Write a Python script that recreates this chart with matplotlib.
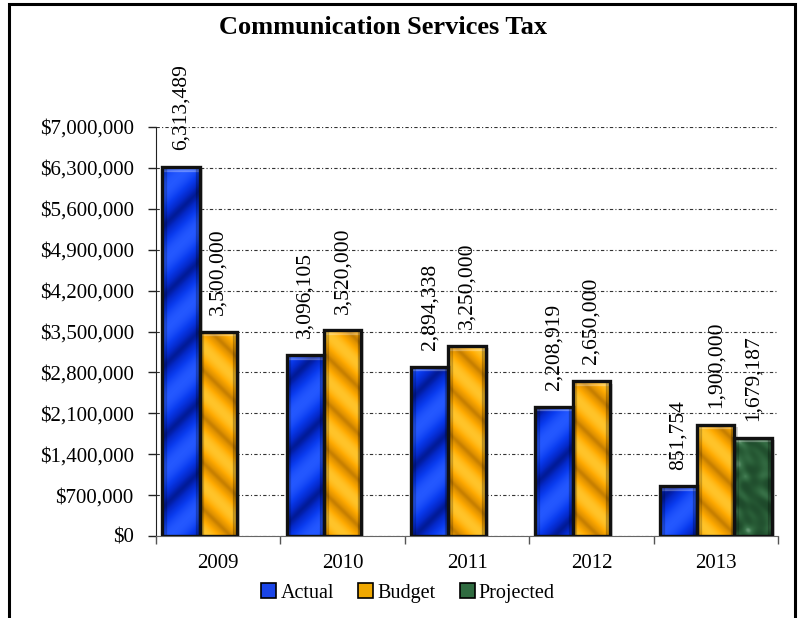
import numpy as np
import matplotlib
matplotlib.use("Agg")
import matplotlib.pyplot as plt
from matplotlib.colors import LinearSegmentedColormap
from matplotlib.patches import Rectangle, Patch
from matplotlib.ticker import FuncFormatter, MultipleLocator, FixedLocator

years = ['2009', '2010', '2011', '2012', '2013']
actual = [6313489, 3096105, 2894338, 2208919, 851754]
budget = [3500000, 3520000, 3250000, 2650000, 1900000]
projected = [None, None, None, None, 1679187]

series_names = ['Actual', 'Budget', 'Projected']

plt.rcParams['font.family'] = ['Liberation Serif', 'DejaVu Serif']

blue_cm = LinearSegmentedColormap.from_list('blu', ['#001070', '#0428c8', '#0a3cf0', '#2458ff'])
gold_cm = LinearSegmentedColormap.from_list('gld', ['#a06200', '#e09200', '#ffaa00', '#ffc42a'])
green_cm = LinearSegmentedColormap.from_list('grn', ['#163b22', '#285c36', '#3a744a', '#86b293'])

fig = plt.figure(figsize=(8.01, 6.18), dpi=100)
ax = fig.add_axes([156 / 801, 82 / 618, 622 / 801, 409 / 618])

ax.set_xlim(-0.5, len(years) - 0.5)
ax.set_ylim(0, 7000000)

width = 0.3
offsets = [-width, 0.0, width]


def stripes_up(xx, yy):
    v = 0.5 + 0.5 * np.sin(2 * np.pi * (xx - yy) / 70.0)
    return 0.15 + 0.85 * v ** 0.7


def stripes_down(xx, yy):
    v = 0.5 + 0.5 * np.sin(2 * np.pi * (xx + yy) / 46.0)
    return 0.2 + 0.8 * v ** 0.7


def marble(xx, yy):
    v = np.sin(xx / 6.0 + 2.5 * np.sin(yy / 9.0)) * np.sin(yy / 7.0 + 2.0 * np.sin(xx / 11.0))
    v += 0.5 * np.sin((xx + yy) / 4.0 + np.cos(xx / 5.0))
    v = (v - v.min()) / (v.max() - v.min() + 1e-9)
    return 0.15 + 0.7 * v ** 2


def fill_bar(rect, cmap, pattern):
    x0, y0 = rect.get_x(), rect.get_y()
    w, h = rect.get_width(), rect.get_height()
    p0 = ax.transData.transform((x0, y0))
    p1 = ax.transData.transform((x0 + w, y0 + h))
    nx = max(int(p1[0] - p0[0]), 2)
    ny = max(int(p1[1] - p0[1]), 2)
    xx, yy = np.meshgrid(np.arange(nx) + p0[0], np.arange(ny) + p0[1])
    vals = pattern(xx, yy)
    im = ax.imshow(vals, cmap=cmap, vmin=0, vmax=1, extent=(x0, x0 + w, y0, y0 + h),
                   origin='lower', aspect='auto', interpolation='bilinear', zorder=2)
    im.set_clip_path(rect)
    # bevel: light strip on top, darker strips down the sides
    bh = min(60000, h * 0.3)
    ax.add_patch(Rectangle((x0, y0 + h - bh), w, bh, color='white', alpha=0.22,
                           zorder=2.5, clip_path=rect))
    ax.add_patch(Rectangle((x0, y0), w * 0.1, h, color='black', alpha=0.15,
                           zorder=2.5, clip_path=rect))
    ax.add_patch(Rectangle((x0 + w * 0.9, y0), w * 0.1, h, color='black', alpha=0.2,
                           zorder=2.5, clip_path=rect))


x = np.arange(len(years))
styles = [(actual, blue_cm, stripes_up), (budget, gold_cm, stripes_down), (projected, green_cm, marble)]

for k, (vals, cm, pat) in enumerate(styles):
    for i, v in enumerate(vals):
        if v is None:
            continue
        xpos = x[i] + offsets[k]
        # soft shadow behind the bar
        ax.bar(xpos + 0.025, v, width, bottom=-40000, color='#888888', alpha=0.35, zorder=1.5)
        bars = ax.bar(xpos, v, width, facecolor='none', edgecolor='#111111',
                      linewidth=2.4, zorder=3)
        fill_bar(bars[0], cm, pat)
        ax.annotate('{:,}'.format(v), (xpos, v), xytext=(0, 12), textcoords='offset points',
                    rotation=90, ha='center', va='bottom', fontsize=15.5, clip_on=False,
                    annotation_clip=False)

ax.set_xlim(-0.5, len(years) - 0.5)
ax.set_ylim(0, 7000000)

ax.yaxis.set_major_locator(MultipleLocator(700000))
ax.yaxis.set_major_formatter(FuncFormatter(lambda v, p: '${:,.0f}'.format(v)))
ax.grid(axis='y', color='#333333', linestyle=(0, (3, 2, 1, 2)), linewidth=0.8, zorder=0)
ax.set_axisbelow(True)

ax.xaxis.set_major_locator(FixedLocator(np.arange(-0.5, len(years), 1.0)))
ax.xaxis.set_major_formatter(FuncFormatter(lambda v, p: ''))
ax.xaxis.set_minor_locator(FixedLocator(x))
ax.set_xticks(x, years, minor=True)
ax.tick_params(axis='x', which='minor', length=0, labelsize=15, pad=13)
ax.tick_params(axis='x', which='major', length=6, width=1, color='#555555', direction='out')
ax.tick_params(axis='y', length=6, width=1, labelsize=15, pad=10, color='#222222')

for s in ['top', 'right']:
    ax.spines[s].set_visible(False)
ax.spines['left'].set_color('#222222')
ax.spines['bottom'].set_color('#666666')

fig.text(383 / 801, 1 - 27 / 618, 'Communication Services Tax', ha='center', va='center',
         fontsize=19, fontweight='bold')

handles = [Patch(facecolor='#1a45e8', edgecolor='black', linewidth=1.2),
           Patch(facecolor='#f0a800', edgecolor='black', linewidth=1.2),
           Patch(facecolor='#2f6b40', edgecolor='black', linewidth=1.2)]
fig.legend(handles, series_names, loc='center', bbox_to_anchor=(408 / 801, 1 - 593 / 618),
           ncol=3, frameon=False, fontsize=14.5, handlelength=0.75, handleheight=0.75,
           handletextpad=0.2, columnspacing=1.2, borderaxespad=0)

fig.add_artist(Rectangle((9 / 801, -0.02), 786 / 801, 1.02 - 4 / 618, transform=fig.transFigure,
                         fill=False, linewidth=2.2, edgecolor='black'))

fig.savefig('out.png', dpi=100)
